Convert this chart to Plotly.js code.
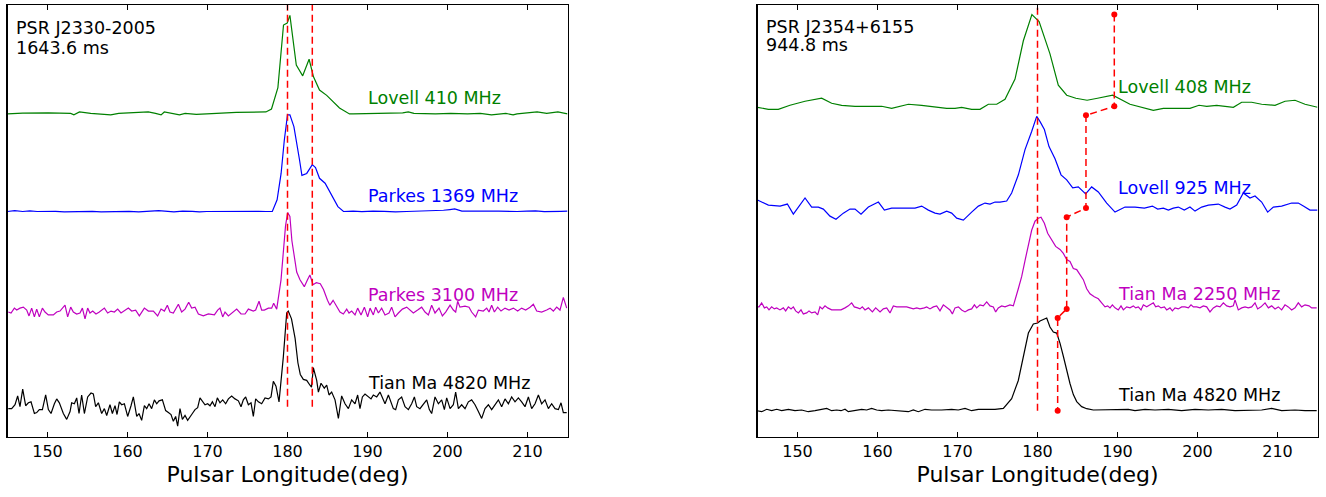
<!DOCTYPE html>
<html>
<head>
<meta charset="utf-8">
<script src="https://cdn.plot.ly/plotly-3.0.1.min.js"></script>
<style>html,body{margin:0;padding:0;background:#fff}</style>
</head>
<body>
<div id="chart" style="width:1326px;height:497px"></div>
<script>
// Integrated pulse profiles, [pulse longitude (deg), normalised intensity]

// PSR J2330-2005
const j2330Lovell410 = [[145.0,0],[146.9,0.007],[150.1,0.01],[152.9,0.005],[153.3,-0.01],[154.0,0.02],[155.4,0.005],[157.9,-0.01],[158.9,0.005],[162.6,0.02],[163.5,0.005],[164.2,-0.01],[164.6,0.02],[166.5,-0.01],[167.2,0.005],[168.6,-0.005],[169.9,0.0],[173.6,0.015],[177.3,0.02],[178.0,0.05],[178.8,0.27],[179.5,0.91],[179.96,0.93],[180.3,1.01],[181.1,0.50],[181.9,0.39],[182.7,0.56],[183.25,0.38],[184.0,0.245],[184.9,0.19],[186.5,0.06],[187.75,0.0],[188.2,0.0],[190.2,0.005],[192.1,0.01],[194.4,0.01],[195.1,0.02],[195.8,0.005],[198.5,0.0],[200.4,0.005],[202.5,0.0],[204.1,0.005],[205.5,-0.01],[207.3,0.005],[208.2,-0.01],[208.7,0.0],[211.2,0.02],[212.4,0.005],[213.8,0.02],[215.0,0.0]];

const j2330Parkes1369 = [[145.0,0],[145.9,0.008],[146.9,0],[147.8,0.006],[148.7,0],[149.8,0.004],[151.0,0.002],[152.1,-0.004],[153.3,-0.003],[154.4,0.004],[155.6,0.002],[156.7,-0.004],[157.9,0],[159.0,0.005],[160.2,0.002],[161.4,-0.003],[162.6,0],[163.9,0.008],[165.8,-0.004],[166.9,0.004],[168.1,0.002],[169.0,-0.003],[169.9,0],[171.8,0.002],[173.0,-0.003],[174.1,0],[175.3,0.004],[176.4,0.002],[177.3,0.0],[178.1,0.0],[178.7,0.12],[179.2,0.39],[179.6,0.73],[180.0,0.99],[180.3,0.99],[180.8,0.87],[181.5,0.53],[181.8,0.37],[182.4,0.39],[183.1,0.48],[183.5,0.45],[184.0,0.34],[184.7,0.29],[185.6,0.15],[186.3,0.05],[187.0,0.0],[188.2,0.004],[189.3,-0.002],[190.7,0.004],[192.1,0.002],[193.5,-0.003],[194.9,0],[196.2,0.004],[197.6,0.002],[198.6,0.01],[199.5,0.013],[200.3,0.02],[200.9,0.026],[201.8,0.004],[203.0,0.002],[204.1,-0.002],[205.2,0.003],[206.4,0.003],[207.5,-0.002],[208.7,0],[209.9,0.004],[211.0,0.006],[212.1,-0.002],[213.3,-0.004],[214.2,0.002],[215.0,0.003]];

const j2330Parkes3100 = [[145.1,-0.03],[145.44,-0.04],[145.86,0.01],[146.15,-0.01],[146.56,0.01],[146.98,0.02],[147.4,-0.01],[147.69,-0.07],[148.02,0.01],[148.36,-0.08],[148.65,0.0],[148.98,-0.08],[149.36,0.01],[149.69,-0.03],[150.1,-0.06],[150.73,-0.06],[151.15,-0.03],[151.56,-0.02],[152.19,0.04],[152.52,-0.08],[152.9,0.02],[153.23,-0.03],[153.65,-0.05],[154.06,-0.04],[154.36,0.01],[154.69,-0.10],[155.02,0.01],[155.31,-0.04],[155.65,-0.02],[156.06,-0.05],[156.48,-0.03],[157.11,0.01],[157.52,-0.04],[157.94,-0.02],[158.36,-0.03],[158.77,0.0],[159.19,-0.04],[159.61,-0.02],[160.11,0.01],[160.52,-0.02],[161.02,-0.01],[161.48,-0.07],[162.11,0.01],[162.61,-0.02],[163.23,-0.02],[163.77,-0.07],[164.19,0.0],[164.61,-0.02],[164.98,0.04],[165.31,-0.03],[165.73,-0.04],[166.36,0.05],[166.77,-0.03],[167.19,0.0],[167.65,0.07],[168.02,0.01],[168.44,0.02],[168.86,-0.05],[169.48,-0.07],[170.11,-0.05],[170.86,-0.06],[171.27,-0.01],[171.56,0.01],[171.9,-0.08],[172.19,-0.03],[172.61,-0.07],[173.02,-0.04],[173.65,0.0],[174.19,-0.05],[174.69,-0.05],[175.11,0.0],[175.73,-0.02],[176.02,-0.01],[176.44,0.08],[176.77,-0.01],[177.1,-0.01],[177.61,0.01],[178.02,0.01],[178.27,0.06],[178.65,0.0],[179.19,0.30],[179.48,0.57],[179.75,0.85],[180.02,0.99],[180.3,0.95],[180.55,0.70],[181.15,0.38],[181.56,0.30],[182.1,0.23],[182.5,0.30],[182.8,0.35],[183.2,0.25],[183.6,0.27],[184.1,0.26],[184.5,0.20],[185.0,0.09],[185.3,0.04],[185.7,0.09],[186.2,0.02],[186.56,-0.03],[186.98,-0.05],[187.4,0.0],[187.69,-0.04],[188.02,-0.02],[188.44,-0.06],[188.77,0.01],[189.19,-0.06],[189.61,0.02],[190.02,-0.08],[190.32,0.01],[190.73,-0.06],[191.02,0.02],[191.36,-0.04],[191.77,0.01],[192.19,-0.06],[192.69,-0.04],[193.02,0.02],[193.44,-0.08],[193.86,-0.04],[194.36,0.0],[194.9,0.02],[195.32,-0.01],[195.73,-0.04],[196.27,-0.01],[196.77,0.02],[197.19,-0.03],[197.61,-0.06],[198.02,0.04],[198.44,-0.04],[198.94,0.01],[199.36,-0.07],[199.77,-0.03],[200.32,0.04],[200.73,-0.01],[201.02,-0.03],[201.27,0.08],[201.56,0.02],[202.19,0.03],[202.69,0.02],[203.02,-0.03],[203.52,-0.08],[203.86,-0.01],[204.48,-0.02],[204.9,0.01],[205.19,-0.03],[205.52,0.04],[205.86,-0.03],[206.27,0.02],[206.69,-0.02],[207.19,0.01],[207.69,-0.01],[208.23,0.01],[208.77,-0.02],[209.27,0.01],[209.77,-0.01],[210.32,0.02],[210.73,0.05],[211.15,-0.02],[211.77,-0.03],[212.4,-0.01],[212.82,0.01],[213.23,-0.02],[213.65,0.02],[214.06,-0.01],[214.48,0.12],[214.9,0.01]];

const j2330TianMa4820 = [[145.1,-0.02],[145.52,-0.02],[145.94,0.02],[146.27,0.11],[146.56,0.0],[146.9,0.18],[147.27,0.01],[147.61,0.04],[147.94,0.05],[148.36,-0.07],[148.65,-0.06],[148.98,-0.03],[149.36,-0.03],[149.77,0.12],[150.11,-0.03],[150.44,-0.07],[150.86,0.03],[151.15,0.08],[151.48,0.04],[151.98,-0.07],[152.4,-0.13],[152.82,-0.05],[153.02,0.04],[153.36,0.03],[153.65,0.09],[153.94,-0.07],[154.27,0.12],[154.61,-0.07],[155.02,0.10],[155.44,0.14],[155.73,0.13],[156.02,0.0],[156.36,0.04],[156.77,-0.07],[157.11,-0.02],[157.4,-0.09],[157.81,0.02],[158.11,-0.07],[158.44,0.01],[158.69,-0.08],[158.98,0.05],[159.27,0.02],[159.61,0.03],[160.02,-0.10],[160.44,0.01],[160.73,0.10],[161.15,-0.10],[161.44,-0.07],[161.77,-0.14],[162.11,0.01],[162.4,-0.02],[162.69,0.03],[163.02,-0.02],[163.36,0.07],[163.65,0.03],[163.94,0.06],[164.36,0.07],[164.77,-0.04],[165.11,-0.06],[165.44,-0.08],[165.73,-0.15],[166.02,-0.10],[166.27,-0.20],[166.56,-0.02],[166.86,-0.13],[167.19,-0.09],[167.52,-0.14],[167.81,-0.10],[168.11,-0.07],[168.44,-0.03],[168.77,-0.01],[169.06,0.09],[169.36,0.06],[169.69,0.02],[170.02,0.03],[170.31,0.01],[170.61,0.05],[170.94,0.0],[171.23,0.09],[171.56,0.04],[171.9,0.07],[172.27,0.03],[172.61,0.08],[173.02,0.11],[173.44,0.08],[173.86,0.06],[174.19,0.0],[174.48,0.07],[174.77,0.10],[175.11,0.02],[175.44,0.04],[175.73,-0.10],[176.02,0.08],[176.36,0.05],[176.77,0.03],[177.19,0.09],[177.61,0.08],[177.94,0.10],[178.23,0.26],[178.56,0.21],[178.94,0.05],[179.48,0.51],[179.9,0.96],[180.1,0.98],[180.5,0.90],[180.95,0.70],[181.3,0.45],[181.6,0.33],[181.98,0.28],[182.4,0.27],[182.81,0.22],[183.0,0.20],[183.23,0.40],[183.65,0.27],[183.86,0.15],[184.19,0.24],[184.6,0.19],[184.9,0.22],[185.19,0.12],[185.52,0.15],[185.94,0.07],[186.36,-0.12],[186.77,0.11],[187.19,0.03],[187.61,-0.02],[188.02,0.07],[188.44,0.03],[188.77,0.12],[189.06,-0.02],[189.36,0.10],[189.69,0.13],[190.11,0.10],[190.44,0.08],[190.73,0.12],[191.15,0.10],[191.56,0.15],[191.86,0.10],[192.19,0.03],[192.61,0.12],[192.94,0.05],[193.23,-0.02],[193.52,-0.03],[193.86,0.07],[194.27,0.10],[194.69,0.0],[195.11,-0.03],[195.52,0.03],[195.86,0.10],[196.15,0.0],[196.56,-0.02],[196.98,0.03],[197.4,0.07],[197.73,-0.03],[198.02,-0.07],[198.44,0.10],[198.86,0.03],[199.27,0.07],[199.61,-0.03],[199.9,0.09],[200.32,-0.02],[200.73,0.02],[201.02,0.15],[201.36,-0.02],[201.77,0.02],[202.19,-0.02],[202.61,0.05],[203.02,0.07],[203.44,0.02],[203.86,-0.05],[204.27,-0.12],[204.69,-0.02],[205.11,0.02],[205.52,-0.03],[205.94,0.02],[206.36,0.07],[206.77,0.0],[207.19,0.08],[207.61,0.03],[208.02,0.10],[208.44,0.05],[208.86,0.09],[209.27,0.05],[209.69,0.0],[210.11,0.10],[210.52,-0.02],[210.94,0.03],[211.36,0.12],[211.77,0.03],[212.19,0.07],[212.61,-0.02],[213.02,0.03],[213.44,-0.02],[213.86,-0.03],[214.19,0.04],[214.48,-0.06],[214.9,-0.06]];

// component longitudes marked for J2330-2005 (deg)
const j2330Components = [180.0, 183.1];

// PSR J2354+6155
const j2354Lovell408 = [[145.0,0.01],[146.36,-0.01],[147.6,-0.01],[149.06,0.03],[150.94,0.07],[153.02,0.10],[154.27,0.05],[155.52,0.03],[157.19,0.02],[158.44,0.02],[159.69,0.02],[160.52,0.02],[161.77,0.0],[163.86,0.04],[165.52,0.03],[167.19,0.01],[168.65,0.0],[169.69,0.0],[170.52,0.01],[171.77,-0.01],[172.81,-0.01],[173.86,0.04],[174.9,0.04],[175.94,0.09],[177.19,0.29],[178.23,0.67],[179.3,0.93],[180.2,0.86],[181.56,0.54],[182.6,0.23],[183.65,0.13],[184.8,0.10],[186.2,0.08],[187.5,0.10],[189.4,0.13],[191.56,0.04],[193.02,0.01],[194.48,-0.02],[195.73,0.0],[197.6,0.0],[199.06,0.0],[200.19,0.03],[201.15,0.02],[202.4,0.03],[203.44,0.02],[204.48,0.01],[205.52,0.06],[206.77,0.06],[208.02,0.04],[209.69,0.03],[210.94,0.07],[212.19,0.08],[213.44,0.04],[215.0,0.01]];

const j2354Lovell925 = [[145.0,0.09],[146.36,0.04],[147.82,0.03],[148.73,0.05],[149.48,-0.05],[150.94,0.11],[151.77,0.02],[152.61,0.02],[153.23,0.0],[154.06,-0.07],[154.81,-0.10],[155.73,-0.04],[156.56,0.0],[157.19,0.0],[157.94,-0.05],[158.86,0.02],[160.11,0.07],[160.86,-0.01],[161.77,0.01],[163.02,0.01],[164.69,0.01],[165.52,0.03],[166.36,-0.01],[167.19,-0.04],[167.81,-0.05],[168.65,-0.02],[169.27,-0.04],[169.9,-0.09],[170.73,-0.11],[171.77,-0.03],[172.61,0.03],[173.44,0.06],[174.06,0.05],[174.69,0.07],[175.31,0.07],[176.15,0.08],[176.77,0.16],[177.61,0.34],[178.44,0.59],[179.27,0.77],[179.9,0.92],[180.3,0.87],[180.86,0.79],[181.44,0.62],[182.19,0.50],[182.94,0.34],[183.65,0.29],[184.4,0.21],[185.1,0.22],[186.02,0.15],[186.77,0.22],[187.6,0.17],[188.65,0.06],[189.69,-0.03],[190.94,0.02],[192.19,0.02],[193.36,0.01],[194.36,0.03],[195.02,0.0],[195.73,0.01],[196.36,-0.01],[196.98,0.01],[197.6,0.02],[198.35,-0.01],[199.06,0.02],[199.69,-0.02],[200.52,0.02],[201.36,0.04],[202.6,0.05],[203.44,0.02],[204.06,0.0],[204.9,0.04],[205.73,0.16],[206.56,0.11],[207.19,0.13],[208.02,0.07],[208.77,-0.03],[209.48,0.02],[210.52,0.03],[211.77,0.06],[212.6,0.06],[213.23,0.03],[214.06,-0.01],[215.0,-0.01]];

const j2354TianMa2250 = [[144.9,0.03],[145.19,0.03],[145.52,0.07],[145.86,0.02],[146.15,0.03],[146.44,0.0],[146.77,0.03],[147.1,0.01],[147.4,0.02],[147.81,0.0],[148.23,0.02],[148.52,-0.01],[148.86,0.03],[149.19,0.01],[149.48,0.03],[149.77,-0.01],[150.11,-0.03],[150.44,0.0],[150.73,-0.04],[151.15,-0.03],[151.44,-0.01],[151.77,-0.03],[152.19,-0.02],[152.52,-0.05],[152.81,0.03],[153.1,0.01],[153.44,0.04],[153.77,0.02],[154.27,0.0],[154.9,0.0],[155.44,0.0],[155.94,0.02],[156.36,0.04],[156.77,0.07],[157.1,0.03],[157.52,0.02],[157.81,0.01],[158.1,0.03],[158.44,0.0],[158.86,0.02],[159.36,-0.02],[159.77,0.02],[160.32,-0.02],[160.73,0.01],[161.15,0.02],[161.56,-0.03],[161.98,0.04],[162.4,0.03],[162.81,0.03],[163.23,0.03],[163.65,0.03],[164.06,0.02],[164.48,0.01],[164.9,0.02],[165.31,0.01],[165.86,0.02],[166.15,0.03],[166.56,0.01],[166.98,0.03],[167.4,0.04],[167.81,-0.01],[168.23,0.05],[168.65,0.02],[169.06,0.0],[169.36,-0.04],[169.69,0.02],[170.11,0.03],[170.52,0.0],[170.94,-0.02],[171.36,0.0],[171.77,0.01],[172.11,0.05],[172.4,0.02],[172.81,0.05],[173.23,0.04],[173.65,0.08],[174.06,0.04],[174.48,0.03],[174.77,-0.02],[175.1,0.02],[175.52,0.04],[175.94,0.03],[176.56,0.05],[176.98,0.04],[177.6,0.21],[178.02,0.33],[178.44,0.49],[178.86,0.63],[179.27,0.79],[179.69,0.88],[180.1,0.91],[180.44,0.92],[180.86,0.86],[181.27,0.76],[181.77,0.69],[182.27,0.63],[182.81,0.60],[183.23,0.56],[183.65,0.50],[184.06,0.48],[184.48,0.41],[184.9,0.40],[185.31,0.35],[185.73,0.30],[186.15,0.21],[186.56,0.16],[187.1,0.13],[187.6,0.11],[188.02,0.07],[188.44,0.03],[188.77,0.04],[189.06,0.02],[189.36,0.05],[189.69,0.02],[190.1,0.0],[190.44,0.04],[190.73,0.0],[191.15,0.03],[191.56,0.02],[191.98,0.04],[192.27,0.02],[192.6,0.03],[192.94,0.0],[193.23,0.05],[193.65,0.03],[194.06,0.05],[194.48,0.07],[194.77,0.03],[195.1,0.04],[195.44,0.02],[195.86,0.03],[196.15,0.0],[196.56,0.02],[196.86,-0.01],[197.19,0.02],[197.6,0.01],[198.02,0.03],[198.44,0.03],[198.86,0.02],[199.19,0.05],[199.48,0.03],[199.9,0.03],[200.31,0.02],[200.73,0.04],[201.15,0.03],[201.56,-0.02],[201.98,0.02],[202.4,0.04],[202.81,0.03],[203.23,0.07],[203.65,0.04],[204.06,0.03],[204.48,0.04],[204.69,0.10],[205.1,0.0],[205.52,0.02],[205.94,0.03],[206.35,0.02],[206.77,0.03],[207.19,0.07],[207.52,0.01],[207.94,0.03],[208.44,0.07],[208.86,0.02],[209.27,0.04],[209.69,0.01],[210.1,0.03],[210.52,0.0],[210.94,0.05],[211.35,0.03],[211.77,0.0],[212.19,0.02],[212.6,0.07],[213.02,0.03],[213.44,0.05],[213.94,0.04],[214.27,0.02],[214.9,0.02]];

const j2354TianMa4820 = [[144.9,0],[145.52,-0.01],[146.15,0.014],[146.77,0],[147.4,0.014],[148.02,0],[148.86,0.014],[149.69,0],[150.52,0.007],[151.35,-0.01],[152.19,0],[153.02,0.014],[153.65,0.023],[154.27,0],[154.9,0.007],[155.44,0],[155.94,0.014],[156.35,-0.01],[157.19,0],[158.02,0.014],[158.65,0.007],[159.27,0.023],[159.9,0.007],[160.52,0],[161.35,0.007],[162.6,0],[163.85,-0.01],[164.48,0.007],[165.1,-0.01],[165.94,0.014],[166.77,0.007],[168.02,0.007],[169.27,0.014],[170.1,0.007],[170.94,0.023],[171.77,0],[172.6,0.014],[173.85,0.014],[174.69,0.014],[175.73,0.023],[176.77,0.12],[177.6,0.30],[178.23,0.52],[178.86,0.77],[179.48,0.86],[180.02,0.87],[180.31,0.89],[180.86,0.91],[181.15,0.92],[181.56,0.83],[181.98,0.78],[182.4,0.77],[182.81,0.67],[183.23,0.54],[183.65,0.40],[184.06,0.27],[184.48,0.16],[184.9,0.09],[185.52,0.04],[186.15,0.02],[186.98,0.007],[188.02,0.007],[189.06,0.014],[190.1,0.007],[191.35,0.014],[192.19,0],[193.44,0.014],[194.69,0.007],[196.35,0.014],[198.02,0],[199.69,0.014],[201.35,0.007],[203.02,0.014],[204.69,0],[206.35,0.007],[208.02,0.007],[209.27,0.023],[210.52,0],[212.19,0.007],[213.44,0],[214.9,0]];

// J2354+6155: leading component, and trailing component per band (top to bottom)
const j2354Leading = 180.0;
const j2354Trailing = [189.6, 186.06, 183.65, 182.52];
const j2354TrailingHigh = [0.93, 0.93, 0.92, 0.92];
const j2354TrailingLow = [0.02, 0.01, 0.01, 0.0];

const bandColors = ['#008000', '#0000ff', '#bf00bf', '#000000'];
const j2330Bands = ['Lovell 410 MHz', 'Parkes 1369 MHz', 'Parkes 3100 MHz', 'Tian Ma 4820 MHz'];
const j2354Bands = ['Lovell 408 MHz', 'Lovell 925 MHz', 'Tian Ma 2250 MHz', 'Tian Ma 4820 MHz'];

const FONT = 'DejaVu Sans, Liberation Sans, sans-serif';
const RED = '#ff0000';

// stacking offsets, top band first
const offsets = [3, 2, 1, 0];

function profileTrace(points, offset, color, xa, ya) {
  return {
    x: points.map(p => p[0]),
    y: points.map(p => p[1] + offset),
    mode: 'lines', type: 'scatter',
    line: {color: color, width: 1.2},
    xaxis: xa, yaxis: ya,
    hoverinfo: 'skip', showlegend: false
  };
}

const traces = [];
[j2330Lovell410, j2330Parkes1369, j2330Parkes3100, j2330TianMa4820].forEach((p, i) =>
  traces.push(profileTrace(p, offsets[i], bandColors[i], 'x', 'y')));
[j2354Lovell408, j2354Lovell925, j2354TianMa2250, j2354TianMa4820].forEach((p, i) =>
  traces.push(profileTrace(p, offsets[i], bandColors[i], 'x2', 'y2')));

// vertical component markers
const dashStyle = '7px,4px';
j2330Components.forEach(c => traces.push({
  x: [c, c], y: [0, 4.5], mode: 'lines', type: 'scatter',
  line: {color: RED, width: 1.5, dash: dashStyle},
  xaxis: 'x', yaxis: 'y', hoverinfo: 'skip', showlegend: false
}));
traces.push({
  x: [j2354Leading, j2354Leading], y: [0, 4.5], mode: 'lines', type: 'scatter',
  line: {color: RED, width: 1.5, dash: dashStyle},
  xaxis: 'x2', yaxis: 'y2', hoverinfo: 'skip', showlegend: false
});

// trailing component drifting with frequency
const trailX = [], trailY = [];
j2354Trailing.forEach((c, i) => {
  trailX.push(c, c);
  trailY.push(offsets[i] + j2354TrailingHigh[i], offsets[i] + j2354TrailingLow[i]);
});
traces.push({
  x: trailX, y: trailY, mode: 'lines+markers', type: 'scatter',
  line: {color: RED, width: 1.5, dash: dashStyle},
  marker: {color: RED, size: 6},
  xaxis: 'x2', yaxis: 'y2', hoverinfo: 'skip', showlegend: false, cliponaxis: false
});

function xAxis(domain, anchor) {
  return {
    domain: domain, anchor: anchor, range: [145, 215],
    tickmode: 'linear', tick0: 150, dtick: 10,
    ticks: 'inside', ticklen: 5, tickwidth: 1.2, tickcolor: '#000',
    showline: true, linecolor: '#000', linewidth: 1.2, mirror: 'ticks',
    showgrid: false, zeroline: false,
    tickfont: {family: FONT, size: 16, color: '#000'},
    title: {text: 'Pulsar Longitude(deg)', font: {family: FONT, size: 22, color: '#000'}, standoff: 6}
  };
}
function yAxis(range, anchor) {
  return {
    domain: [0, 1], anchor: anchor, range: range,
    showticklabels: false, ticks: '',
    showline: true, linecolor: '#000', linewidth: 1.2, mirror: true,
    showgrid: false, zeroline: false
  };
}

const annotations = [];
function label(text, x, y, xref, yref, color) {
  annotations.push({
    text: text, x: x, y: y, xref: xref, yref: yref,
    xanchor: 'left', yanchor: 'middle', showarrow: false,
    font: {family: FONT, size: 17.5, color: color}
  });
}
const j2330LabelY = [3.163, 2.154, 1.144, 0.243];
const j2354LabelY = [3.214, 2.206, 1.158, 0.156];
j2330Bands.forEach((b, i) => label(b, 189.75, j2330LabelY[i], 'x', 'y', bandColors[i]));
j2354Bands.forEach((b, i) => label(b, 189.75, j2354LabelY[i], 'x2', 'y2', bandColors[i]));
label('PSR J2330-2005', 145.85, 3.877, 'x', 'y', '#000');
label('1643.6 ms', 145.85, 3.672, 'x', 'y', '#000');
label('PSR J2354+6155', 145.75, 3.81, 'x2', 'y2', '#000');
label('944.8 ms', 145.75, 3.628, 'x2', 'y2', '#000');

const layout = {
  width: 1326, height: 497,
  margin: {l: 0, r: 0, t: 5, b: 60, pad: 0},
  paper_bgcolor: '#fff', plot_bgcolor: '#fff',
  font: {family: FONT, color: '#000'},
  showlegend: false,
  xaxis: xAxis([7.5 / 1326, 567.5 / 1326], 'y'),
  yaxis: yAxis([-0.3105, 4.1158], 'x'),
  xaxis2: xAxis([757.5 / 1326, 1317.5 / 1326], 'y2'),
  yaxis2: yAxis([-0.2609, 4.0248], 'x2'),
  annotations: annotations
};

Plotly.newPlot('chart', traces, layout, {staticPlot: true, displayModeBar: false});
</script>
</body>
</html>
